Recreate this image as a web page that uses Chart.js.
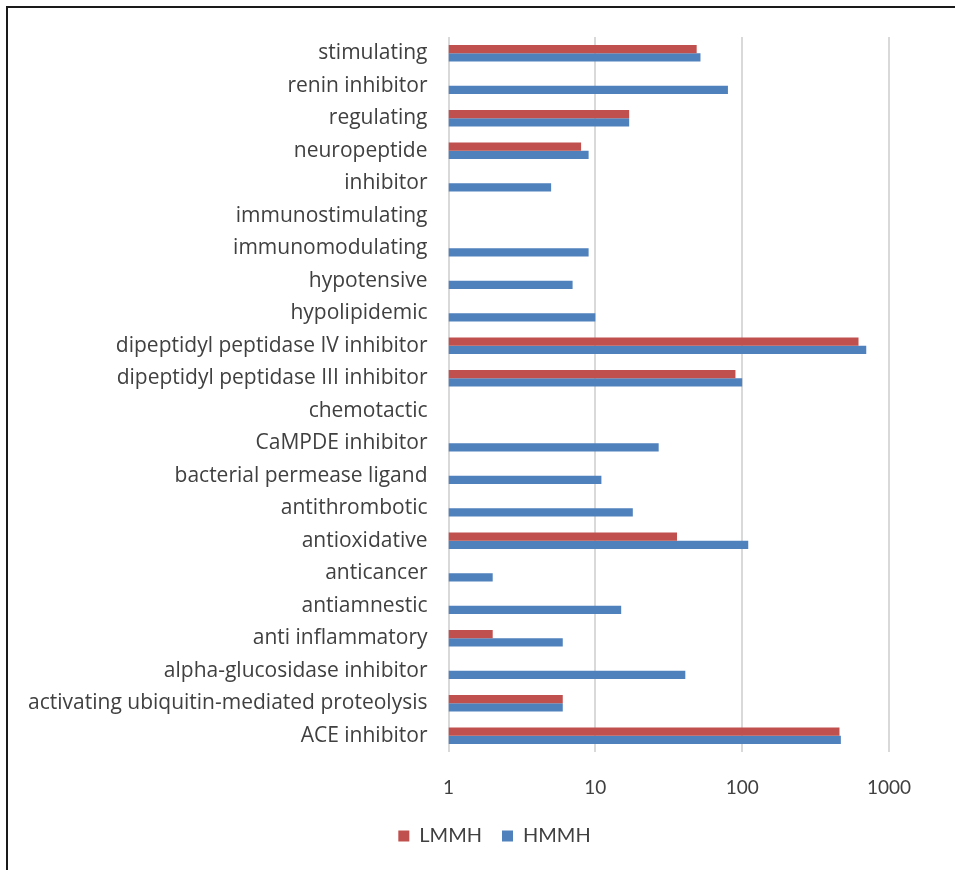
<!DOCTYPE html>
<html>
<head>
<meta charset="utf-8">
<script src="https://cdn.jsdelivr.net/npm/chart.js@4/dist/chart.umd.min.js"></script>
<style>
  html, body { margin: 0; padding: 0; background: #ffffff; overflow: hidden; }
  #frame {
    position: absolute; left: 6px; top: 6px; width: 1000px; height: 1000px;
    border-left: 2px solid #1a1a1a; border-top: 2px solid #1a1a1a;
  }
  #wrap { position: absolute; left: 0; top: 0; width: 955px; height: 870px; }
</style>
</head>
<body>
<div id="frame"></div>
<div id="wrap"><canvas id="c" width="955" height="870"></canvas></div>
<script>
// Bioactivity categories, listed top to bottom
const categories = [
  'stimulating',
  'renin inhibitor',
  'regulating',
  'neuropeptide',
  'inhibitor',
  'immunostimulating',
  'immunomodulating',
  'hypotensive',
  'hypolipidemic',
  'dipeptidyl peptidase IV inhibitor',
  'dipeptidyl peptidase III inhibitor',
  'chemotactic',
  'CaMPDE inhibitor',
  'bacterial permease ligand',
  'antithrombotic',
  'antioxidative',
  'anticancer',
  'antiamnestic',
  'anti inflammatory',
  'alpha-glucosidase inhibitor',
  'activating ubiquitin-mediated proteolysis',
  'ACE inhibitor'
];

// Peptide counts per category (null = none found)
const lmmh = [49, null, 17, 8, null, null, null, null, null, 620, 90, null, null, null, null, 36, null, null, 2, null, 6, 460];
const hmmh = [52, 80, 17, 9, 5, 1, 9, 7, 10, 700, 100, 1, 27, 11, 18, 110, 2, 15, 6, 41, 6, 470];

// Decade ticks on the log axis
const tickValues = [1, 10, 100, 1000];

const RED = '#C0504D';
const BLUE = '#4F81BD';
const TEXT = '#404040';
const FONT = '"Open Sans", Lato, sans-serif';

// Centre the legend under the labels + plot block rather than the whole canvas
const legendShift = {
  id: 'legendShift',
  afterLayout(chart) {
    if (chart.legend) { chart.legend.left += 100; }
  }
};

new Chart(document.getElementById('c'), {
  type: 'bar',
  data: {
    labels: categories,
    datasets: [
      { label: 'LMMH', data: lmmh, backgroundColor: RED, borderWidth: 0 },
      { label: 'HMMH', data: hmmh, backgroundColor: BLUE, borderWidth: 0 }
    ]
  },
  plugins: [legendShift],
  options: {
    indexAxis: 'y',
    responsive: false,
    animation: false,
    devicePixelRatio: 1,
    categoryPercentage: 0.51,
    barPercentage: 1.0,
    layout: { padding: { left: 0, right: 66, top: 37, bottom: 14 } },
    scales: {
      x: {
        type: 'logarithmic',
        min: 1,
        max: 1000,
        afterBuildTicks: (scale) => { scale.ticks = tickValues.map(v => ({ value: v })); },
        afterFit: (scale) => { scale.height = 54; },
        grid: { color: '#d9d9d9', lineWidth: 2, drawTicks: false },
        border: { display: false },
        ticks: {
          color: TEXT,
          font: { family: 'Lato, sans-serif', size: 19 },
          padding: 24,
          callback: (v) => String(v)
        }
      },
      y: {
        afterFit: (scale) => { scale.width = 448.5; },
        grid: { display: false, drawTicks: false },
        border: { display: false },
        ticks: {
          color: TEXT,
          font: { family: FONT, size: 21 },
          padding: 21,
          autoSkip: false
        }
      }
    },
    plugins: {
      legend: {
        position: 'bottom',
        labels: {
          color: TEXT,
          font: { family: 'Lato, sans-serif', size: 20 },
          boxWidth: 11,
          boxHeight: 11,
          padding: 20
        }
      },
      tooltip: { enabled: false }
    }
  }
});
</script>
</body>
</html>
